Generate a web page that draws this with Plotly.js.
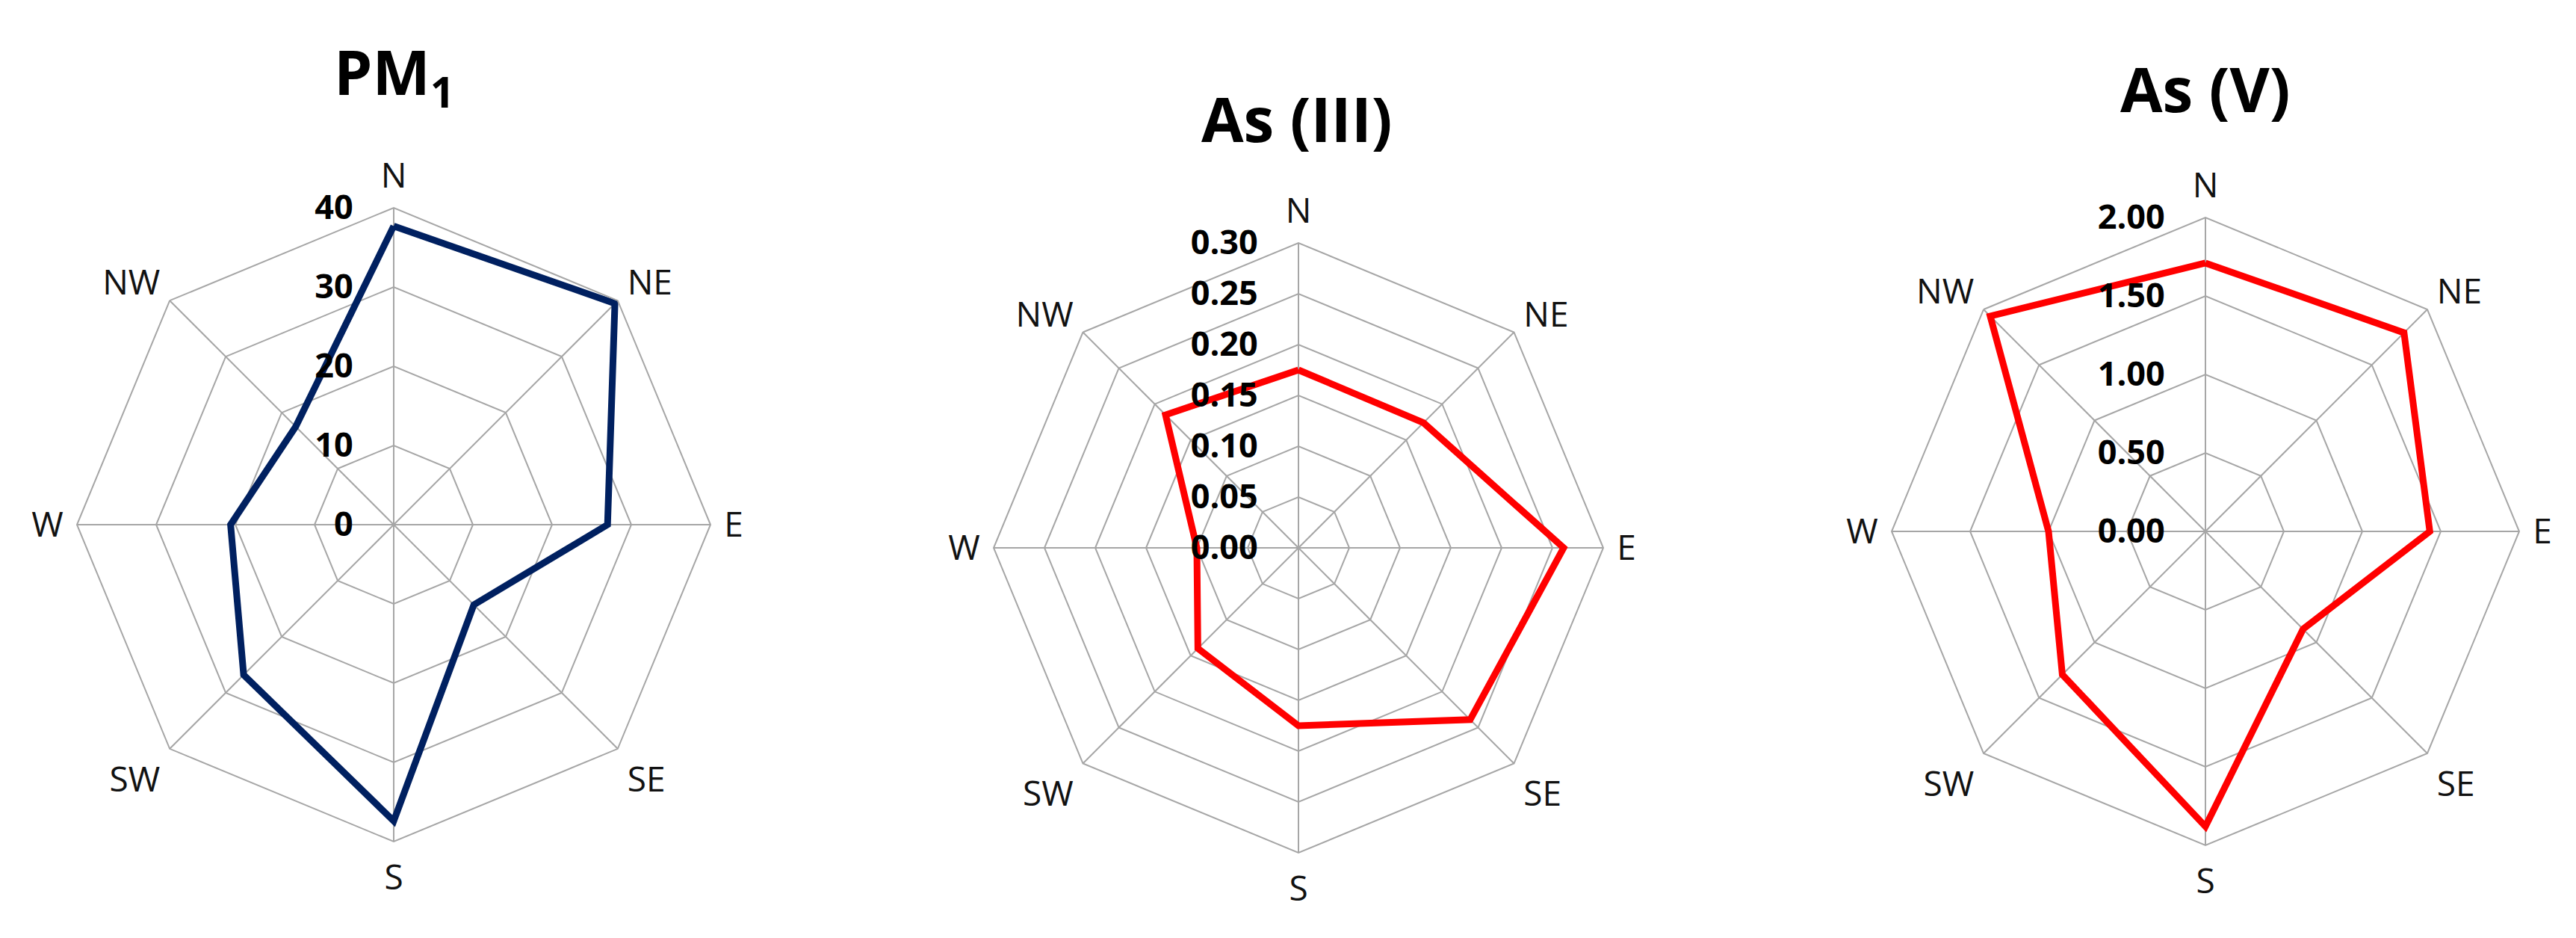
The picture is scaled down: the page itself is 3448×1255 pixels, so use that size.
<!DOCTYPE html>
<html><head><meta charset="utf-8">
<script src="https://cdn.plot.ly/plotly-3.0.1.min.js"></script>
<style>html,body{margin:0;padding:0;background:#fff}</style>
</head><body><div id="chart" style="width:3448px;height:1255px"></div>
<script>
// ---- data ----
const directions = ['N', 'NE', 'E', 'SE', 'S', 'SW', 'W', 'NW'];
const pm1Values = [37.7, 39.5, 27.0, 14.3, 37.4, 26.8, 20.6, 17.5];
const as3Values = [0.175, 0.174, 0.261, 0.239, 0.175, 0.140, 0.100, 0.185];
const as5Values = [1.71, 1.79, 1.43, 0.88, 1.88, 1.29, 1.00, 1.94];
const pm1Ticks = [0, 10, 20, 30, 40];
const pm1TickText = ['0', '10', '20', '30', '40'];
const as3Ticks = [0, 0.05, 0.10, 0.15, 0.20, 0.25, 0.30];
const as3TickText = ['0.00', '0.05', '0.10', '0.15', '0.20', '0.25', '0.30'];
const as5Ticks = [0, 0.5, 1.0, 1.5, 2.0];
const as5TickText = ['0.00', '0.50', '1.00', '1.50', '2.00'];
const titles = ['PM<sub>1</sub>', 'As (III)', 'As (V)'];

// ---- layout helpers ----
const W = 3448, H = 1255;
const FONT = 'Open Sans, Noto Sans, sans-serif';
const GRID = '#a6a6a6';

function dom(cx, cy, r) {
  return { x: [(cx - r) / W, (cx + r) / W], y: [1 - (cy + r) / H, 1 - (cy - r) / H] };
}
function polarCfg(d, tickvals, ticktext) {
  return {
    domain: d,
    gridshape: 'linear',
    bgcolor: 'rgba(0,0,0,0)',
    radialaxis: {
      range: [tickvals[0], tickvals[tickvals.length - 1]],
      tickvals: tickvals, ticktext: ticktext,
      angle: 90, side: 'counterclockwise', tickangle: 90,
      showline: false, showgrid: true, gridcolor: GRID, gridwidth: 2,
      ticks: 'outside', ticklen: 38, tickcolor: 'rgba(0,0,0,0)',
      tickfont: { family: FONT, size: 45, color: '#000', weight: 'bold' }
    },
    angularaxis: {
      type: 'category', categoryarray: directions,
      direction: 'clockwise', rotation: 90,
      showline: true, linecolor: GRID, linewidth: 2,
      showgrid: true, gridcolor: GRID, gridwidth: 2,
      ticks: 'outside', ticklen: 8, tickcolor: 'rgba(0,0,0,0)',
      tickfont: { family: FONT, size: 46, color: '#111' }
    }
  };
}
function closed(arr) { return arr.concat([arr[0]]); }

const traces = [
  { values: pm1Values, color: '#002060', sub: 'polar' },
  { values: as3Values, color: '#ff0000', sub: 'polar2' },
  { values: as5Values, color: '#ff0000', sub: 'polar3' }
].map(s => ({
  type: 'scatterpolar', mode: 'lines',
  r: closed(s.values), theta: closed(directions),
  line: { color: s.color, width: 9 },
  subplot: s.sub, hoverinfo: 'skip', showlegend: false
}));

const layout = {
  width: W, height: H,
  margin: { l: 0, r: 0, t: 0, b: 0 },
  paper_bgcolor: '#fff',
  showlegend: false,
  polar: polarCfg(dom(527, 702, 424), pm1Ticks, pm1TickText),
  polar2: polarCfg(dom(1738, 733, 408), as3Ticks, as3TickText),
  polar3: polarCfg(dom(2952, 711, 420), as5Ticks, as5TickText),
  annotations: [
    { text: titles[0], x: 528 / W, y: 1 - 100 / H },
    { text: titles[1], x: 1736 / W, y: 1 - 158 / H },
    { text: titles[2], x: 2952 / W, y: 1 - 118 / H }
  ].map(a => Object.assign(a, {
    xref: 'paper', yref: 'paper', xanchor: 'center', yanchor: 'middle', showarrow: false,
    font: { family: FONT, size: 82, color: '#000', weight: 'bold' }
  }))
};

Plotly.newPlot('chart', traces, layout, { staticPlot: true, displayModeBar: false });
</script>
</body></html>
